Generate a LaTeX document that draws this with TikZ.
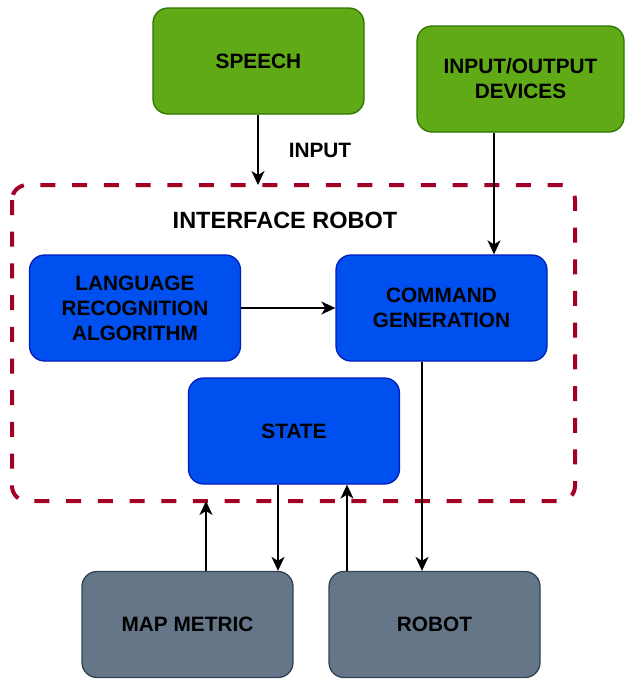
\documentclass[tikz,border=0pt]{standalone}
\usepackage{fontspec}
\setmainfont{Liberation Sans}
\usetikzlibrary{arrows.meta}
\definecolor{gfill}{HTML}{60A917}
\definecolor{gdraw}{HTML}{2D7600}
\definecolor{bfill}{HTML}{0050EF}
\definecolor{bdraw}{HTML}{001DBC}
\definecolor{sfill}{HTML}{647687}
\definecolor{sdraw}{HTML}{314354}
\definecolor{frame}{HTML}{A20025}
\tikzset{
  box/.style={rounded corners=15pt, minimum width=211pt, minimum height=106pt, line width=1.3pt, align=center,
    font=\fontsize{20.8}{25}\selectfont\bfseries, inner sep=0pt},
  greenbox/.style={box, fill=gfill, draw=gdraw},
  bluebox/.style={box, fill=bfill, draw=bdraw},
  greybox/.style={box, fill=sfill, draw=sdraw},
  conn/.style={line width=1.5pt, -{Stealth[length=14pt,width=13pt,inset=4pt]}},
  lbl/.style={font=\fontsize{20.8}{25}\selectfont\bfseries, inner sep=0pt}
}
\begin{document}
\begin{tikzpicture}[x=1pt,y=-1pt]
\useasboundingbox (0,0) rectangle (625,680);
% frame
\draw[frame, line width=4pt, dash pattern=on 15pt off 16.7pt, rounded corners=15pt] (12,185) rectangle (575,501);
\node[lbl, font=\fontsize{23.5}{28}\selectfont\bfseries] (title) at (285,220) {INTERFACE ROBOT};
% nodes
\node[greenbox] (speech) at (258.5,61) {SPEECH};
\node[greenbox, minimum width=207pt] (io) at (520.5,79) {INPUT/OUTPUT\\DEVICES};
\node[bluebox] (lra) at (135,308) {LANGUAGE\\RECOGNITION\\ALGORITHM};
\node[bluebox] (cmd) at (441.5,308) {COMMAND\\GENERATION};
\node[bluebox] (state) at (294,431) {STATE};
\node[greybox] (map) at (187.5,624.5) {MAP METRIC};
\node[greybox] (robot) at (434.5,624.5) {ROBOT};
\node[lbl] (input) at (320,150) {INPUT};
% coordinates
\coordinate (ftop) at (258,185);
\coordinate (fbot) at (206,501);
% connectors
\draw[conn] (speech.south -| ftop) -- (ftop);
\draw[conn] (io.south -| 494,0) -- (cmd.north -| 494,0);
\draw[conn] (lra.east) -- (cmd.west);
\draw[conn] (cmd.south -| 422,0) -- (robot.north -| 422,0);
\draw[conn] (state.south -| 278,0) -- (map.north -| 278,0);
\draw[conn] (map.north -| fbot) -- (fbot);
\draw[conn] (robot.north -| 347,0) -- (state.south -| 347,0);
\end{tikzpicture}
\end{document}
